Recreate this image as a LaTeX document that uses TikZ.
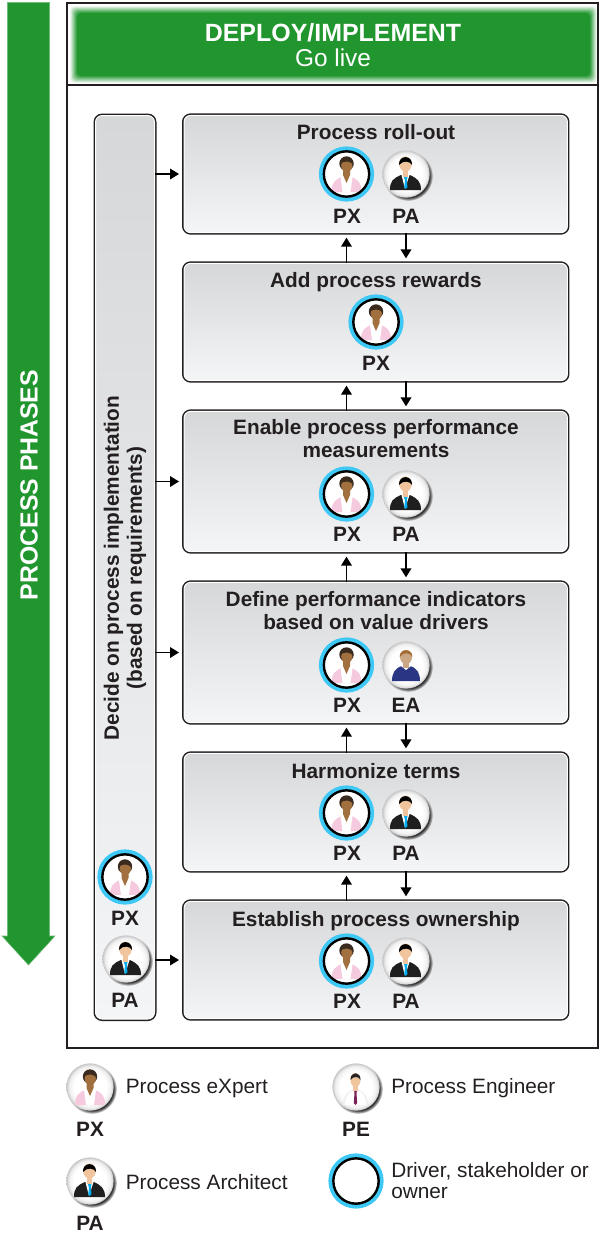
\documentclass[tikz,border=0pt]{standalone}
\usepackage{fontspec}
\setmainfont{Liberation Sans}
\usepackage{xcolor}
\usetikzlibrary{arrows.meta,shadows}
\definecolor{phasegreen}{HTML}{21962F}
\definecolor{inkdark}{HTML}{231F20}
\definecolor{ringblue}{HTML}{3EC8F5}
\definecolor{boxtop}{HTML}{D6D7D9}
\definecolor{boxbottom}{HTML}{F4F5F7}
\definecolor{expertskin}{HTML}{A26F3F}
\definecolor{experthair}{HTML}{3B2A1E}
\definecolor{expertpink}{HTML}{F5C9DE}
\definecolor{paleskin}{HTML}{F0C49C}
\definecolor{tieblue}{HTML}{00AEEF}
\definecolor{tieplum}{HTML}{7B2458}
\definecolor{navy}{HTML}{2A3684}
\pgfdeclareradialshading{ballshade}{\pgfpoint{0bp}{0bp}}{color(0bp)=(white);color(17bp)=(white);color(22bp)=(black!6);color(25bp)=(black!22);color(50bp)=(black!22)}
\tikzset{
  procbox/.style={rectangle,rounded corners=5pt,outer sep=0pt,preaction={draw=inkdark,line width=3pt},draw=white,line width=.75pt,top color=boxtop,bottom color=boxbottom},
  boxtitle/.style={anchor=base,inner sep=0pt,align=center,text=inkdark,font=\fontsize{15.6}{17.25}\selectfont\bfseries},
  rolelabel/.style={inner sep=0pt,text=inkdark,font=\fontsize{15.6}{17.25}\selectfont\bfseries},
  legendtext/.style={anchor=west,inner sep=0pt,align=left,text=inkdark,font=\fontsize{15.6}{15.75}\selectfont},
  flowarrow/.style={-{Triangle[length=6.75pt,width=8pt]},line width=1.1pt,black,shorten >=3.75pt},
  iconball/.style={circle,minimum size=35.5pt,inner sep=0pt,shade,shading=ballshade,circular drop shadow={shadow xshift=1.5pt,shadow yshift=-1.5pt,shadow scale=1.05,fill=black!80}},
  driverball/.style={circle,minimum size=34pt,inner sep=0pt,preaction={draw=ringblue,line width=7.4pt},draw=black,line width=1.8pt,fill=white},
  withpx/.style={path picture={\pic at (path picture bounding box.center) {expertman};}},
  withpa/.style={path picture={\pic at (path picture bounding box.center) {architectman};}},
  withea/.style={path picture={\pic at (path picture bounding box.center) {enterpriseman};}},
  withpe/.style={path picture={\pic at (path picture bounding box.center) {engineerman};}},
  expertman/.pic={
    \fill[expertpink] (-15,18) .. controls (-15,9) and (-12,6) .. (-5,3) -- (5,3) .. controls (12,6) and (15,9) .. (15,18) -- cycle;
    \fill[white] (-6,3) -- (-4,18) -- (4,18) -- (6,3) -- cycle;
    \fill[experthair] (0,-10.5) ellipse[x radius=7.2,y radius=7.2];
    \fill[expertskin] (-3.5,-5) -- (3.5,-5) -- (3.5,1) -- (0,9) -- (-3.5,1) -- cycle;
    \fill[expertskin] (.3,-8.5) ellipse[x radius=5.6,y radius=6.5];
    \fill[experthair] (-6.5,-10) .. controls (-6,-18) and (6,-19) .. (7,-9) .. controls (4,-13) and (-2,-14) .. (-6.5,-10) -- cycle;
  },
  architectman/.pic={
    \fill[black!88] (-16,16) .. controls (-16,7) and (-13,4.5) .. (-5,1) -- (4,1) .. controls (11,4.5) and (15,7) .. (15,16) -- cycle;
    \fill[white] (-4.5,1) -- (-1,15) -- (3.5,1) -- cycle;
    \fill[tieblue] (-2,3) -- (1.5,3) -- (.8,7) -- (1.5,13) -- (-.3,15) -- (-1.8,13) -- (-1,7) -- cycle;
    \fill[paleskin] (-3,-4) rectangle (2,3);
    \fill[paleskin] (-.5,-10) ellipse[x radius=6.3,y radius=7.5];
    \fill[black] (-7,-9) .. controls (-7.8,-19.5) and (6.8,-19.5) .. (6,-9) .. controls (4,-13) and (-3,-14) .. (-7,-9) -- cycle;
  },
  enterpriseman/.pic={
    \fill[navy] (-14,16) .. controls (-14,8) and (-11,3) .. (-4,1) -- (4,1) .. controls (11,3) and (14,8) .. (14,16) -- cycle;
    \fill[white] (-5,1) -- (0,5) -- (5,1) -- cycle;
    \fill[black!15!paleskin] (-3,-4) rectangle (3,3);
    \fill[black!15!paleskin] (0,-8) ellipse[x radius=6,y radius=7.2];
    \fill[brown!85!black] (-6.3,-8) .. controls (-7,-17) and (7,-17) .. (6.3,-8) .. controls (4,-13) and (-3,-13) .. (-6.3,-8) -- cycle;
  },
  engineerman/.pic={
    \fill[black!6] (-13,18) .. controls (-13,10) and (-10,6) .. (-4,3) -- (3,3) .. controls (9,6) and (12,10) .. (12,18) -- cycle;
    \fill[white] (-11,18) .. controls (-11,11) and (-9,7) .. (-4,4) -- (3,4) .. controls (8,7) and (10,11) .. (10,18) -- cycle;
    \fill[tieplum] (-2,3) -- (1,3) -- (.5,6) -- (1.2,16) -- (-.5,18) -- (-2.2,16) -- (-1.5,6) -- cycle;
    \fill[paleskin] (-3,-2) rectangle (2,4);
    \fill[paleskin] (-.5,-7) ellipse[x radius=5,y radius=7];
    \fill[black!85] (-5.5,-7) .. controls (-6,-16) and (5,-16) .. (4.5,-7) .. controls (3,-11) and (-3,-11) .. (-5.5,-7) -- cycle;
  },
}
\begin{document}
\begin{tikzpicture}[x=0.75pt,y=-0.75pt]
\useasboundingbox (0,0) rectangle (601,1235);
% phase arrow
\filldraw[draw=phasegreen!65!white,line width=.4pt,fill=phasegreen] (7.5,2.5) -- (49.5,2.5) -- (49.5,936) -- (55,936) -- (28.5,965) -- (2,936) -- (7.5,936) -- cycle;
\node[rotate=90,inner sep=0pt,text=white,font=\fontsize{18.6}{20}\selectfont\bfseries] (phaselabel) at (29,485) {PROCESS PHASES};
% frame and header
\foreach \i/\m in {0/8,1/20,2/34,3/48,4/62,5/76,6/88,7/100}
  \fill[phasegreen!\m!white,rounded corners=3pt] (70+\i,6+\i) rectangle (597-\i,83-\i);
\draw[inkdark,line width=1.5pt] (67,3) rectangle (598,1048);
\draw[inkdark,line width=1.5pt] (67,85) -- (598,85);
\node[inner sep=0pt,text=white,font=\fontsize{18.7}{20}\selectfont\bfseries] (deploy) at (333,33) {DEPLOY/IMPLEMENT};
\node[inner sep=0pt,text=white,font=\fontsize{18.3}{20}\selectfont] (golive) at (333,58) {Go live};
% left box
\node[procbox,minimum width=44.25pt,minimum height=677.6pt] (decide) at (125,567.3) {};
\node[rotate=90,inner sep=0pt,align=center,text=inkdark,font=\fontsize{15.6}{17.25}\selectfont\bfseries] (decidetext) at (125,568) {Decide on process implementation\\(based on requirements)};
\node[driverball,withpx] (decidepx) at (125,877) {};
\node[rolelabel] (decidepxlabel) at (125,918) {PX};
\node[iconball,withpa] (decidepa) at (126,959) {};
\node[rolelabel] (decidepalabel) at (125,1000.5) {PA};
% process boxes
\node[procbox,minimum width=287.6pt,minimum height=88pt] (rollout) at (375.75,174) {};
\node[boxtitle] (rollouttitle) at (376,139) {Process roll-out};
\node[driverball,withpx] (rollpx) at (346.5,174) {};
\node[iconball,withpa] (rollpa) at (406,174) {};
\node[rolelabel] (rollpxlabel) at (347,216) {PX};
\node[rolelabel] (rollpalabel) at (406,216) {PA};
\node[procbox,minimum width=287.6pt,minimum height=88pt] (rewards) at (375.75,322) {};
\node[boxtitle] (rewardstitle) at (376,287) {Add process rewards};
\node[driverball,withpx] (rewardspx) at (376,322) {};
\node[rolelabel] (rewardspxlabel) at (376,363) {PX};
\node[procbox,minimum width=287.6pt,minimum height=105.25pt] (enable) at (375.75,481.5) {};
\node[boxtitle] (enabletitle) at (376,434) {Enable process performance};
\node[boxtitle] (enabletitleb) at (376,457) {measurements};
\node[driverball,withpx] (enablepx) at (346.5,494) {};
\node[iconball,withpa] (enablepa) at (406,494) {};
\node[rolelabel] (enablepxlabel) at (347,534) {PX};
\node[rolelabel] (enablepalabel) at (406,534) {PA};
\node[procbox,minimum width=287.6pt,minimum height=105.25pt] (define) at (375.75,652.5) {};
\node[boxtitle] (definetitle) at (376,606) {Define performance indicators};
\node[boxtitle] (definetitleb) at (376,629) {based on value drivers};
\node[driverball,withpx] (definepx) at (346.5,665) {};
\node[iconball,withea] (defineea) at (406,665) {};
\node[rolelabel] (definepxlabel) at (347,705) {PX};
\node[rolelabel] (defineealabel) at (406,705.5) {EA};
\node[procbox,minimum width=287.6pt,minimum height=88pt] (harmonize) at (375.75,812) {};
\node[boxtitle] (harmonizetitle) at (376,778) {Harmonize terms};
\node[driverball,withpx] (harmonizepx) at (346.5,813) {};
\node[iconball,withpa] (harmonizepa) at (406,813) {};
\node[rolelabel] (harmonizepxlabel) at (347,853) {PX};
\node[rolelabel] (harmonizepalabel) at (406,853) {PA};
\node[procbox,minimum width=287.6pt,minimum height=88pt] (ownership) at (375.75,960) {};
\node[boxtitle] (ownershiptitle) at (376,926) {Establish process ownership};
\node[driverball,withpx] (ownershippx) at (346.5,961) {};
\node[iconball,withpa] (ownershippa) at (406,961) {};
\node[rolelabel] (ownershippxlabel) at (347,1001) {PX};
\node[rolelabel] (ownershippalabel) at (406,1001) {PA};
% connectors
\draw[flowarrow] (decide.east |- rollout.west) -- (rollout.west);
\draw[flowarrow] (decide.east |- enable.west) -- (enable.west);
\draw[flowarrow] (decide.east |- define.west) -- (define.west);
\draw[flowarrow] (decide.east |- ownership.west) -- (ownership.west);
\draw[flowarrow] (rewards.north -| rollpx) -- (rollout.south -| rollpx);
\draw[flowarrow] (rollout.south -| rollpa) -- (rewards.north -| rollpa);
\draw[flowarrow] (enable.north -| rollpx) -- (rewards.south -| rollpx);
\draw[flowarrow] (rewards.south -| rollpa) -- (enable.north -| rollpa);
\draw[flowarrow] (define.north -| enablepx) -- (enable.south -| enablepx);
\draw[flowarrow] (enable.south -| enablepa) -- (define.north -| enablepa);
\draw[flowarrow] (harmonize.north -| definepx) -- (define.south -| definepx);
\draw[flowarrow] (define.south -| defineea) -- (harmonize.north -| defineea);
\draw[flowarrow] (ownership.north -| harmonizepx) -- (harmonize.south -| harmonizepx);
\draw[flowarrow] (harmonize.south -| harmonizepa) -- (ownership.north -| harmonizepa);
% legend
\node[iconball,withpx] (legendpx) at (90,1087) {};
\node[rolelabel] (legendpxlabel) at (90,1129) {PX};
\node[legendtext] (legendpxtext) at (125.5,1088) {Process eXpert};
\node[iconball,withpa] (legendpa) at (90,1181) {};
\node[rolelabel] (legendpalabel) at (90,1223) {PA};
\node[legendtext] (legendpatext) at (125.5,1182) {Process Architect};
\node[iconball,withpe] (legendpe) at (356,1087) {};
\node[rolelabel] (legendpelabel) at (356,1129) {PE};
\node[legendtext] (legendpetext) at (391,1088) {Process Engineer};
\node[driverball] (legenddriver) at (356,1181) {};
\node[legendtext] (legenddrivertext) at (391,1181) {Driver, stakeholder or\\owner};
\end{tikzpicture}
\end{document}
